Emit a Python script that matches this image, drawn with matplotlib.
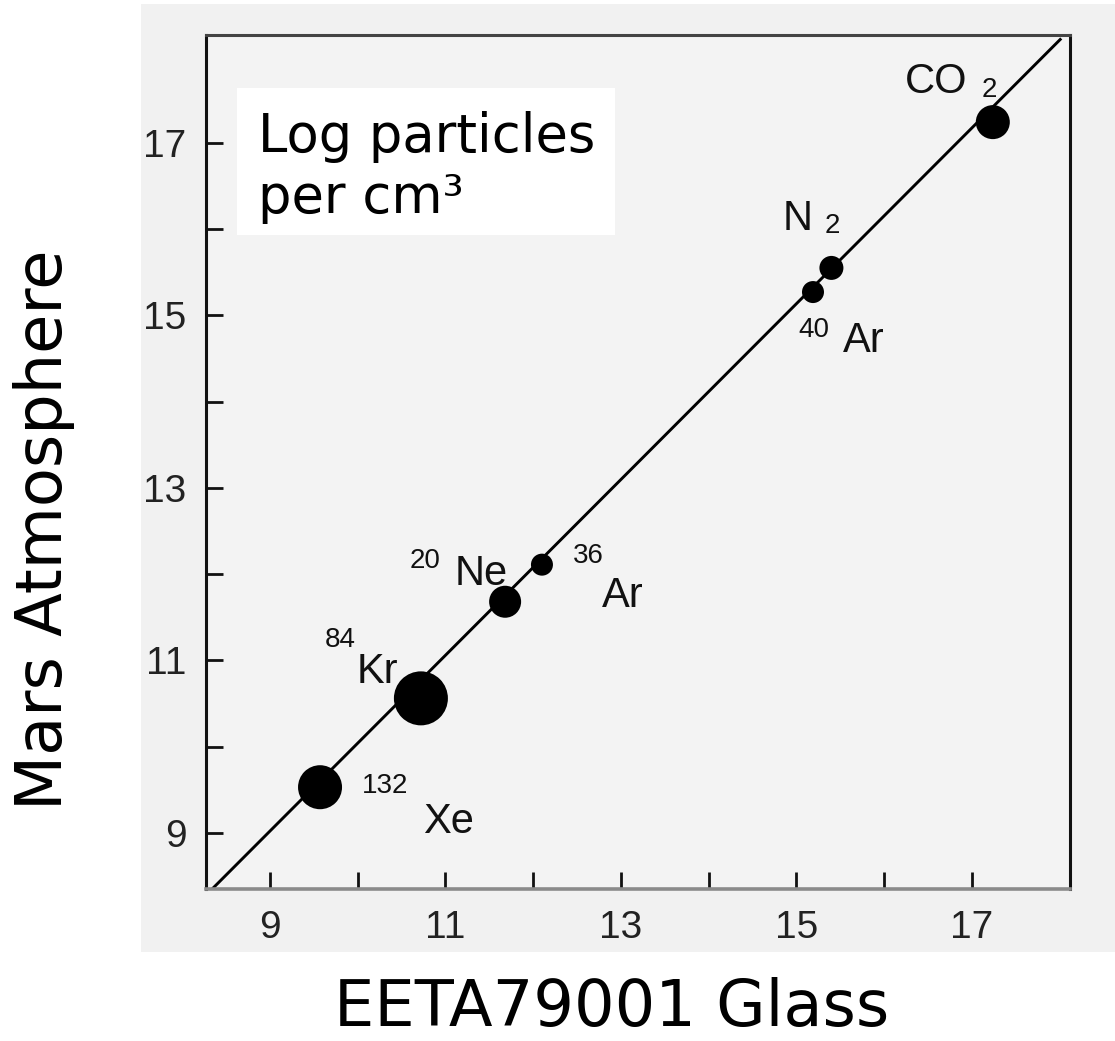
import numpy as np
import matplotlib
matplotlib.use("Agg")
import matplotlib.pyplot as plt
from matplotlib.patches import Rectangle
from matplotlib.ticker import FixedLocator

# log particles per cm^3 : glass (x) vs Mars atmosphere (y)
species = ["CO", "N", "Ar", "Ar", "Ne", "Kr", "Xe"]
tags = ["2", "2", "40", "36", "20", "84", "132"]
glass = [17.24, 15.40, 15.19, 12.10, 11.68, 10.72, 9.57]
atmos = [17.24, 15.55, 15.27, 12.11, 11.68, 10.56, 9.53]

# fitted line end points
line_x = [8.34, 18.02]
line_y = [8.35, 18.21]

# marker radius in pixels (style)
radius_px = [17, 12, 11, 11, 16, 27, 22]
# label offsets in pixels: (symbol dx, dy, tag dx, dy)
offs = [(-88, 29, -11, 25),
        (-49, 38, -7, 35),
        (30, -60, -15, -45),
        (60, -42, 31, 2),
        (-50, 17, -95, 34),
        (-64, 15, -96, 51),
        (103, -46, 42, -6)]

W, H = 1115, 1041
fig = plt.figure(figsize=(W / 100, H / 100), dpi=100)
fig.patch.set_facecolor("white")

# scanned gray panel
fig.add_artist(Rectangle((141 / W, 1 - 952 / H), (W - 141) / W, (952 - 4) / H,
                         transform=fig.transFigure, facecolor="#f1f1f1",
                         edgecolor="none", zorder=-5))

ax = fig.add_axes([206 / W, 1 - 889 / H, (1070 - 206) / W, (889 - 35) / H])
ax.set_facecolor("#f3f3f3")
ax.set_xlim(8.27, 18.12)
ax.set_ylim(8.35, 18.25)

ax.plot(line_x, line_y, color="black", lw=2.1, solid_capstyle="butt", zorder=2)

sizes = [(2 * r * 0.72) ** 2 for r in radius_px]
ax.scatter(glass, atmos, s=sizes, color="black", edgecolors="none", zorder=3)

lab_font = dict(family="Liberation Sans", color="#111111")
for i in range(len(species)):
    sdx, sdy, tdx, tdy = offs[i]
    ax.annotate(species[i], (glass[i], atmos[i]), xytext=(sdx, sdy),
                textcoords="offset pixels", ha="left", va="baseline",
                fontsize=30, **lab_font)
    ax.annotate(tags[i], (glass[i], atmos[i]), xytext=(tdx, tdy),
                textcoords="offset pixels", ha="left", va="baseline",
                fontsize=20, **lab_font)

# ticks
for axis in (ax.xaxis, ax.yaxis):
    axis.set_major_locator(FixedLocator([9, 11, 13, 15, 17]))
    axis.set_minor_locator(FixedLocator([10, 12, 14, 16]))
ax.tick_params(which="both", direction="in", length=12, width=2,
               color="#111111", top=False, right=False)
ax.tick_params(axis="x", which="major", pad=15, labelsize=28, labelcolor="#222222")
ax.tick_params(axis="y", which="major", pad=14, labelsize=28, labelcolor="#222222")
for lab in ax.get_xticklabels() + ax.get_yticklabels():
    lab.set_family("Liberation Sans")

for side in ["left", "right"]:
    ax.spines[side].set_color("#111111")
    ax.spines[side].set_linewidth(2.2)
ax.spines["top"].set_color("#444444")
ax.spines["top"].set_linewidth(2.2)
ax.spines["bottom"].set_color("#8a8a8a")
ax.spines["bottom"].set_linewidth(2.6)

# white legend box
fig.add_artist(Rectangle((237 / W, 1 - 235 / H), 378 / W, 147 / H,
                         transform=fig.transFigure, facecolor="white",
                         edgecolor="none", zorder=5))
fig.text(258 / W, 1 - 152 / H, "Log particles", fontsize=38,
         family="DejaVu Sans", va="baseline", ha="left", zorder=6)
fig.text(258 / W, 1 - 213 / H, "per cm³", fontsize=38,
         family="DejaVu Sans", va="baseline", ha="left", zorder=6)

# axis titles
fig.text(44 / W, 1 - 530 / H, "Mars Atmosphere", fontsize=46,
         family="DejaVu Sans", rotation=90, ha="center", va="center")
fig.text(612 / W, 2 / H, "EETA79001 Glass", fontsize=46,
         family="DejaVu Sans", ha="center", va="bottom")

fig.savefig("out.png", dpi=100)
